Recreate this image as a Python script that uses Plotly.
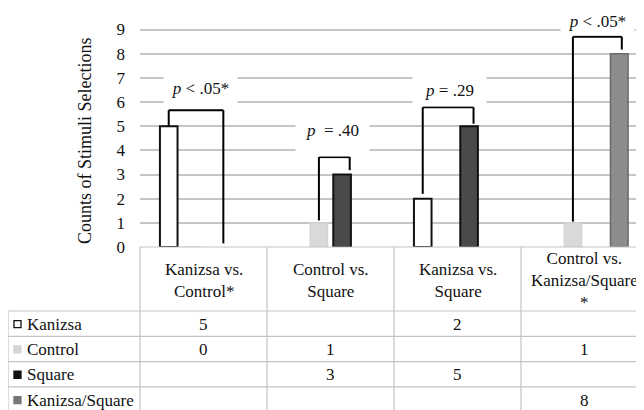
import plotly.graph_objects as go

# ---------------- data ----------------
categories = ["Kanizsa vs.<br>Control*", "Control vs.<br>Square",
              "Kanizsa vs.<br>Square", "Control vs.<br>Kanizsa/Square<br>*"]
series_names = ["Kanizsa", "Control", "Square", "Kanizsa/Square"]
kanizsa = [5, None, 2, None]
control = [0, 1, None, 1]
square = [None, 3, 5, None]
kanizsa_square = [None, None, None, 8]
p_labels = ["<i>p</i> &lt; .05*", "<i>p</i>&nbsp; = .40", "<i>p</i> = .29", "<i>p</i> &lt; .05*"]
y_ticks = [0, 1, 2, 3, 4, 5, 6, 7, 8, 9]
y_title = "Counts of Stimuli Selections"

series_values = [kanizsa, control, square, kanizsa_square]

# ---------------- style ----------------
OFF = 8  # page body margin
W, H = 644, 410
PL, PT, PBOT = 140, 15, 247          # page-pixel plot left / top / bottom
L = PL - OFF
T = PT - OFF
B = H - (PBOT - OFF)
R = 0
FONT = "Liberation Serif"
GRID = "#c6c6c6"
TABLE_LINE = "#c4c4c4"
fills = ["#ffffff", "#d9d9d9", "#4a4a4a", "#8c8c8c"]
lines = ["#111111", "#d0d0d0", "#111111", "#6a6a6a"]
line_w = [2, 1, 2, 1.5]
legend_fill = ["#ffffff", "#d4d4d4", "#111111", "#777777"]
BARGAP = 0.27
BARGROUPGAP = 0.24
COLW = 127.0
plot_w = W - L - R
XR = [-0.5, -0.5 + plot_w / COLW]
YR = [0, 9.6]
plot_h = H - T - B


def pxx(xp):  # page px -> paper
    return (xp - PL) / plot_w


def pxy(yp):
    return (PBOT - yp) / plot_h


def cat_px(x):
    return PL + (x - XR[0]) * COLW


def slot(i, k):
    gw = 1 - BARGAP
    return i - gw / 2 + gw / 4 * (k + 0.5)


fig = go.Figure()
for name, vals, fc, lc, lw in zip(series_names, series_values, fills, lines, line_w):
    fig.add_trace(go.Bar(x=categories, y=vals, name=name,
                         marker=dict(color=fc, line=dict(color=lc, width=lw)),
                         showlegend=False, hoverinfo="skip"))

shapes = []
annotations = []

# brackets: (category, left slot, right slot, right nudge, left bottom, top, right bottom)
brackets = [
    (0, 0, 2, 0.065, 5.0, 5.66, 0.15),
    (1, 1, 2, 0.06, 1.1, 3.72, 3.18),
    (2, 0, 2, 0.035, 2.2, 5.78, 5.1),
    (3, 1, 3, 0.02, 1.05, 8.7, 8.17),
]
for (i, kl, kr, nud, yl, yt, yr) in brackets:
    xl = slot(i, kl)
    xr = slot(i, kr) + nud
    for (x0, y0, x1, y1) in [(xl, yl, xl, yt), (xl, yt, xr, yt), (xr, yt, xr, yr)]:
        shapes.append(dict(type="line", xref="x", yref="y", x0=x0, y0=y0, x1=x1, y1=y1,
                           line=dict(color="#000000", width=2)))

# p-value labels with white boxes (center px x, center px y, box h)
label_boxes = [(200, 88, 32, "middle"), (332.5, 138, 34, "top"),
               (449, 90, 30, "middle"), (597.5, 21, 26, "middle")]
for lab, (cx, cy, bh, va) in zip(p_labels, label_boxes):
    annotations.append(dict(xref="paper", yref="paper", x=pxx(cx), y=pxy(cy),
                            text=lab, showarrow=False, bgcolor="#ffffff",
                            width=71, height=bh, valign=va, align="center",
                            xanchor="center", yanchor="middle",
                            font=dict(family=FONT, size=17, color="#111111")))

# ---------------- table ----------------
header_top = PBOT
header_bot = 311
row_h = 25.3
row_tops = [header_bot + row_h * r for r in range(4)]
table_left = 8
col_edges = [cat_px(x) for x in [-0.5, 0.5, 1.5, 2.5]]
right_edge = W + OFF + 10
bottom_edge = H + 10


def hline(y, x0, x1):
    shapes.append(dict(type="line", xref="paper", yref="paper", x0=pxx(x0), x1=pxx(x1),
                       y0=pxy(y), y1=pxy(y), line=dict(color=TABLE_LINE, width=1.2)))


def vline(x, y0, y1):
    shapes.append(dict(type="line", xref="paper", yref="paper", x0=pxx(x), x1=pxx(x),
                       y0=pxy(y0), y1=pxy(y1), line=dict(color=TABLE_LINE, width=1.2)))


hline(header_top, PL, right_edge)
for yt in row_tops:
    hline(yt, table_left, right_edge)
vline(table_left, header_bot, bottom_edge)
for ce in col_edges:
    vline(ce, header_top, bottom_edge)

# header labels
for i, cat in enumerate(categories):
    annotations.append(dict(xref="paper", yref="paper", x=pxx(cat_px(i)), y=pxy(280.5),
                            text=cat, showarrow=False, xanchor="center", yanchor="middle",
                            align="center",
                            font=dict(family=FONT, size=17, color="#111111")))

# rows
for r, (name, vals) in enumerate(zip(series_names, series_values)):
    cy = row_tops[r] + row_h / 2 + 0.5
    shapes.append(dict(type="rect", xref="paper", yref="paper",
                       x0=pxx(14), x1=pxx(21), y0=pxy(cy - 3.5), y1=pxy(cy + 3.5),
                       fillcolor=legend_fill[r],
                       line=dict(color="#111111" if r == 0 else legend_fill[r], width=1.3)))
    annotations.append(dict(xref="paper", yref="paper", x=pxx(25), y=pxy(cy),
                            text=name, showarrow=False, xanchor="left", yanchor="middle",
                            font=dict(family=FONT, size=17, color="#111111")))
    for i, v in enumerate(vals):
        if v is None:
            continue
        annotations.append(dict(xref="paper", yref="paper", x=pxx(cat_px(i)), y=pxy(cy),
                                text=str(v), showarrow=False, xanchor="center", yanchor="middle",
                                font=dict(family=FONT, size=17, color="#111111")))

# y axis title
annotations.append(dict(xref="paper", yref="paper", x=pxx(85), y=pxy(141),
                        text=y_title, textangle=-90, showarrow=False,
                        xanchor="center", yanchor="middle",
                        font=dict(family=FONT, size=18, color="#111111")))

fig.update_layout(
    width=W, height=H,
    margin=dict(l=L, r=R, t=T, b=B, pad=0),
    paper_bgcolor="#ffffff", plot_bgcolor="#ffffff",
    barmode="group", bargap=BARGAP, bargroupgap=BARGROUPGAP,
    font=dict(family=FONT, size=16, color="#111111"),
    shapes=shapes, annotations=annotations,
    xaxis=dict(type="category", range=XR, showticklabels=False, showgrid=False,
               showline=False, zeroline=False, ticks="", fixedrange=True),
    yaxis=dict(range=YR, tickvals=y_ticks, showgrid=True, gridcolor=GRID, gridwidth=1.5,
               zeroline=False, showline=False, ticks="", ticklabelstandoff=14,
               tickfont=dict(family=FONT, size=17, color="#111111")),
)

fig.write_html("out.html")
